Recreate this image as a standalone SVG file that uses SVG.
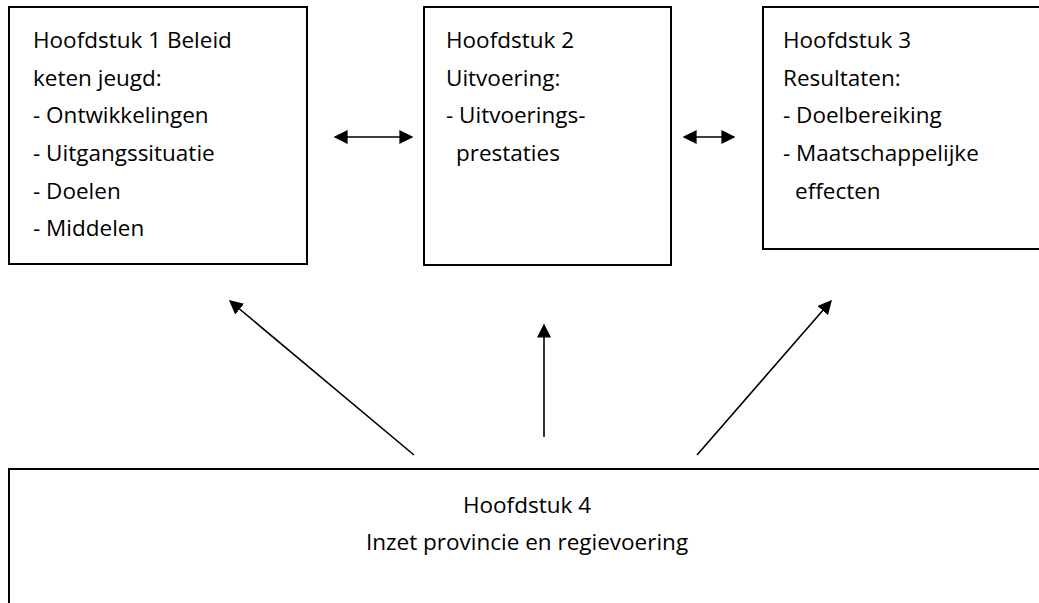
<svg xmlns="http://www.w3.org/2000/svg" width="1039" height="603" viewBox="0 0 1039 603">
<style>
.box{fill:#fff;stroke:#000;stroke-width:2}
.t{font-family:"Open Sans","Liberation Sans",sans-serif;font-size:22.5px;fill:#000}
.c{stroke:#000;stroke-width:1.6;fill:none}
</style>
<defs>
<marker id="ah2" viewBox="0 0 10 10" refX="9" refY="5" markerWidth="14" markerHeight="14" markerUnits="userSpaceOnUse" orient="auto-start-reverse">
<path d="M0,0 L10,5 L0,10 z" fill="#000"/>
</marker>
</defs>
<rect width="1039" height="603" fill="#fff"/>
<g id="node1">
<rect class="box" x="9" y="7" width="298" height="257"/>
<text class="t" x="33" y="48">Hoofdstuk 1 Beleid</text>
<text class="t" x="33" y="86">keten jeugd:</text>
<text class="t" x="33" y="123">- Ontwikkelingen</text>
<text class="t" x="33" y="161">- Uitgangssituatie</text>
<text class="t" x="33" y="199">- Doelen</text>
<text class="t" x="33" y="236">- Middelen</text>
</g>
<g id="node2">
<rect class="box" x="424" y="7" width="247" height="258"/>
<text class="t" x="446" y="48">Hoofdstuk 2</text>
<text class="t" x="446" y="86">Uitvoering:</text>
<text class="t" x="446" y="123">- Uitvoerings-</text>
<text class="t" x="456" y="161">prestaties</text>
</g>
<g id="node3">
<rect class="box" x="763" y="7" width="290" height="242"/>
<text class="t" x="783" y="48">Hoofdstuk 3</text>
<text class="t" x="783" y="86">Resultaten:</text>
<text class="t" x="783" y="123">- Doelbereiking</text>
<text class="t" x="783" y="161">- Maatschappelijke</text>
<text class="t" x="795" y="199">effecten</text>
</g>
<g id="node4">
<rect class="box" x="9" y="469" width="1050" height="160"/>
<text class="t" x="527" y="513" text-anchor="middle">Hoofdstuk 4</text>
<text class="t" x="527" y="550" text-anchor="middle">Inzet provincie en regievoering</text>
</g>
<g id="connectors">
<line class="c" x1="335" y1="137" x2="412" y2="137" marker-start="url(#ah2)" marker-end="url(#ah2)"/>
<line class="c" x1="684" y1="137" x2="734" y2="137" marker-start="url(#ah2)" marker-end="url(#ah2)"/>
<line class="c" x1="414" y1="455" x2="230" y2="301" marker-end="url(#ah2)"/>
<line class="c" x1="544" y1="437" x2="544" y2="325" marker-end="url(#ah2)"/>
<line class="c" x1="697" y1="455" x2="831" y2="301" marker-end="url(#ah2)"/>
</g>
</svg>
